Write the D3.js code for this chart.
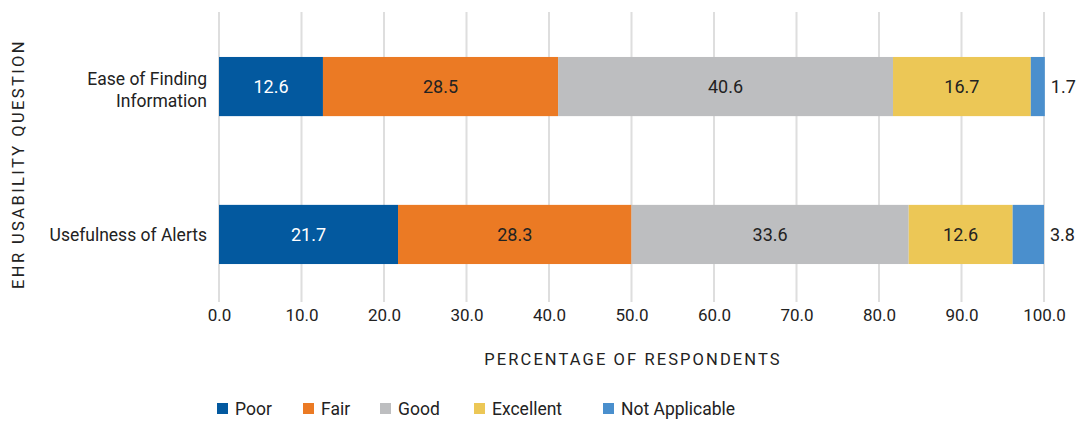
<!DOCTYPE html>
<html>
<head>
<meta charset="utf-8">
<script src="https://cdn.jsdelivr.net/npm/d3@7"></script>
<style>
  body { margin: 0; background: #fff; }
  svg text { font-family: Roboto, "Liberation Sans", sans-serif; fill: #222; }
</style>
</head>
<body>
<svg id="chart" width="1077" height="421"></svg>
<script>
// data
var questions = [["Ease of Finding", "Information"], ["Usefulness of Alerts"]];
var ratings = ["Poor", "Fair", "Good", "Excellent", "Not Applicable"];
var poor = [12.6, 21.7];
var fair = [28.5, 28.3];
var good = [40.6, 33.6];
var excellent = [16.7, 12.6];
var notApplicable = [1.7, 3.8];
var xTicks = [0, 10, 20, 30, 40, 50, 60, 70, 80, 90, 100];
var colors = ["#03599f", "#eb7a24", "#bdbec0", "#ecc756", "#4a8fcd"];

var series = [poor, fair, good, excellent, notApplicable];
var rows = questions.map(function(q, i){
  var r = {key: i, label: q};
  ratings.forEach(function(k, j){ r[k] = series[j][i]; });
  return r;
});

var svg = d3.select("#chart");
var xScale = d3.scaleLinear().domain([0, 100]).range([219, 1044]);
var yScale = d3.scaleBand().domain(rows.map(function(d){return d.key}))
  .range([12, 309]).paddingInner(0.6).paddingOuter(0.304);
var color = d3.scaleOrdinal().domain(ratings).range(colors);

// gridlines
svg.append("g").selectAll("line")
  .data(xTicks).enter().append("line")
  .attr("x1", function(d){return xScale(d)})
  .attr("x2", function(d){return xScale(d)})
  .attr("y1", 12).attr("y2", 302)
  .attr("stroke", "#dedede").attr("stroke-width", 2);

// x axis labels
var xAxis = d3.axisBottom(xScale).tickValues(xTicks)
  .tickFormat(d3.format(".1f")).tickSize(0).tickPadding(0);
var gx = svg.append("g").attr("transform", "translate(0,309)").call(xAxis);
gx.select(".domain").remove();
gx.selectAll("text").attr("font-size", 17).attr("fill", "#222")
  .attr("font-family", "Roboto, sans-serif");

// stacked bars
var stack = d3.stack().keys(ratings)(rows);
var layer = svg.append("g").selectAll("g")
  .data(stack).enter().append("g")
  .attr("fill", function(d){return color(d.key)});
layer.selectAll("rect")
  .data(function(d){return d}).enter().append("rect")
  .attr("x", function(d){return xScale(d[0])})
  .attr("y", function(d){return yScale(d.data.key)})
  .attr("width", function(d){return xScale(d[1]) - xScale(d[0])})
  .attr("height", yScale.bandwidth());

// value labels
stack.forEach(function(s, j){
  svg.append("g").selectAll("text")
    .data(s).enter().append("text")
    .attr("x", function(d){
      return j == 4 ? xScale(d[1]) + 6 : (xScale(d[0]) + xScale(d[1])) / 2;
    })
    .attr("y", function(d){return yScale(d.data.key) + yScale.bandwidth() / 2})
    .attr("dy", "0.35em")
    .attr("text-anchor", j == 4 ? "start" : "middle")
    .attr("font-size", 18)
    .style("fill", j == 0 ? "#fff" : "#222")
    .text(function(d){return d3.format(".1f")(d[1] - d[0])});
});

// category labels
var cat = svg.append("g").selectAll("text")
  .data(rows).enter().append("text")
  .attr("text-anchor", "end")
  .attr("font-size", 17.5)
  .attr("y", function(d){
    var c = yScale(d.key) + yScale.bandwidth() / 2;
    return c - (d.label.length - 1) * 8;
  });
cat.selectAll("tspan")
  .data(function(d){return d.label}).enter().append("tspan")
  .attr("x", 207)
  .attr("dy", function(d, i){return i == 0 ? "0.35em" : 22})
  .text(function(d){return d});

// axis titles
svg.append("text")
  .attr("x", 633).attr("y", 359)
  .attr("dy", "0.35em")
  .attr("text-anchor", "middle")
  .attr("font-size", 16.5)
  .attr("letter-spacing", 2.1)
  .text("PERCENTAGE OF RESPONDENTS");

svg.append("text")
  .attr("transform", "translate(24,164) rotate(-90)")
  .attr("text-anchor", "middle")
  .attr("font-size", 16.5)
  .attr("letter-spacing", 2.4)
  .text("EHR USABILITY QUESTION");

// legend
var legendX = [217, 303, 380, 474, 603];
var legend = svg.append("g").selectAll("g")
  .data(ratings).enter().append("g")
  .attr("transform", function(d, i){return "translate(" + legendX[i] + ",403)"});
legend.append("rect").attr("width", 11).attr("height", 11)
  .attr("fill", function(d){return color(d)});
legend.append("text").attr("x", 18).attr("y", 6).attr("dy", "0.35em")
  .attr("font-size", 17.5)
  .text(function(d){return d});
</script>
</body>
</html>
